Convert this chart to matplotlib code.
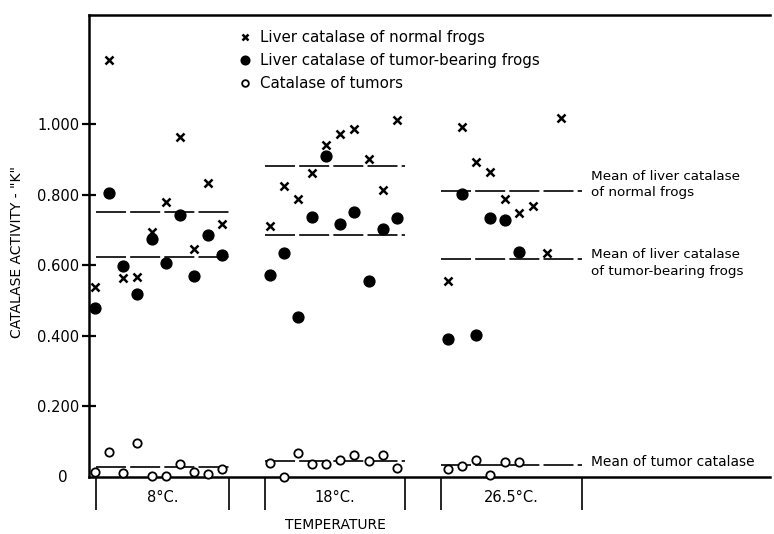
import matplotlib
matplotlib.use('Agg')
import matplotlib.pyplot as plt
import numpy as np
from matplotlib.transforms import blended_transform_factory

# ---- data ----
temps = ['8°C.', '18°C.', '26.5°C.']

normal_8 = [0.539, 1.181, 0.563, 0.567, 0.695, 0.780, 0.964, 0.646, 0.832, 0.717]
normal_18 = [0.711, 0.824, 0.789, 0.862, 0.942, 0.971, 0.986, 0.902, 0.813, 1.011]
normal_26 = [0.555, 0.991, 0.893, 0.865, 0.789, 0.747, 0.769, 0.634, 1.016]

tb_8 = [0.478, 0.805, 0.598, 0.518, 0.673, 0.607, 0.742, 0.569, 0.686, 0.628]
tb_18 = [0.572, 0.634, 0.454, 0.737, 0.909, 0.717, 0.752, 0.555, 0.704, 0.735]
tb_26 = [0.390, 0.801, 0.403, 0.735, 0.728, 0.637]

tumor_8 = [0.015, 0.072, 0.012, 0.095, 0.004, 0.004, 0.036, 0.015, 0.008, 0.022]
tumor_18 = [0.041, 0.000, 0.069, 0.036, 0.036, 0.048, 0.062, 0.045, 0.062, 0.025]
tumor_26 = [0.022, 0.031, 0.048, 0.006, 0.043, 0.043]

mean_normal = [0.750, 0.881, 0.810]
mean_tb = [0.623, 0.686, 0.617]
mean_tumor = [0.029, 0.046, 0.034]

yticks = [0.2, 0.4, 0.6, 0.8, 1.0]
ytick_labels = ['0.200', '0.400', '0.600', '0.800', '1.000']

# ---- layout ----
plt.rcParams['font.family'] = ['DejaVu Sans']
fig = plt.figure(figsize=(7.74, 5.34), dpi=100)
ax = fig.add_axes([0.1150, 0.1067, 0.8798, 0.8652])

slot_start = [0.42, 12.76, 25.37]
spans = [(0.49, 9.89), (12.44, 22.33), (24.88, 34.82)]

normal = [normal_8, normal_18, normal_26]
tb = [tb_8, tb_18, tb_26]
tumor = [tumor_8, tumor_18, tumor_26]

dash = (0, (18, 2.5))
for g in range(3):
    xn = slot_start[g] + np.arange(len(normal[g]))
    xb = slot_start[g] + np.arange(len(tb[g]))
    xt = slot_start[g] + np.arange(len(tumor[g]))
    lo, hi = spans[g]
    ax.hlines([mean_normal[g], mean_tb[g], mean_tumor[g]], lo, hi,
              colors='black', linestyles=dash, lw=1.2, zorder=1)
    ax.plot(xn, normal[g], ls='none', marker='x', ms=5.8, mew=1.8, color='black',
            label='Liver catalase of normal frogs' if g == 0 else None, zorder=3)
    ax.plot(xb, tb[g], ls='none', marker='o', ms=7.8, color='black', mec='black',
            label='Liver catalase of tumor-bearing frogs' if g == 0 else None, zorder=3)
    ax.plot(xt, tumor[g], ls='none', marker='o', ms=6, mfc='white', mec='black', mew=1.3,
            label='Catalase of tumors' if g == 0 else None, zorder=3, clip_on=False)

ax.set_xlim(0, 48.13)
ax.set_ylim(0, 1.309)

for s in ['left', 'top', 'bottom']:
    ax.spines[s].set_linewidth(1.8)
ax.spines['right'].set_visible(False)

ax.set_yticks(yticks)
ax.set_yticklabels(ytick_labels)
ax.tick_params(axis='y', direction='inout', length=10, width=1.6, labelsize=10.5, pad=2)
ax.set_xticks([])

ax.text(-0.038, 0.0, '0', transform=ax.transAxes, ha='center', va='center', fontsize=11)
ax.set_ylabel('CATALASE ACTIVITY - "K"', fontsize=10)
ax.yaxis.set_label_coords(-0.095, 0.487)

# group boundary marks and labels below axis
trans = blended_transform_factory(ax.transData, ax.transAxes)
for g in range(3):
    lo, hi = spans[g]
    ax.vlines([lo, hi], -0.071, 0, transform=trans, colors='black', lw=1.2, clip_on=False)
    ax.text((lo + hi) / 2, -0.045, temps[g], transform=trans, ha='center', va='center', fontsize=10.5)
ax.text(sum(spans[1]) / 2, -0.104, 'TEMPERATURE', transform=trans, ha='center', va='center', fontsize=10)

# annotations for means
ax.text(35.5, 0.829, 'Mean of liver catalase\nof normal frogs', ha='left', va='center',
        fontsize=9.7, linespacing=1.35)
ax.text(35.5, 0.606, 'Mean of liver catalase\nof tumor-bearing frogs', ha='left', va='center',
        fontsize=9.7, linespacing=1.35)
ax.text(35.5, 0.043, 'Mean of tumor catalase', ha='left', va='center', fontsize=9.9)

leg = ax.legend(loc='upper left', bbox_to_anchor=(0.22, 0.967), frameon=False, fontsize=10.8,
                handlelength=0.8, handletextpad=0.6, labelspacing=0.52, borderpad=0,
                borderaxespad=0, numpoints=1, markerscale=0.8)

fig.savefig('out.png', dpi=100)
